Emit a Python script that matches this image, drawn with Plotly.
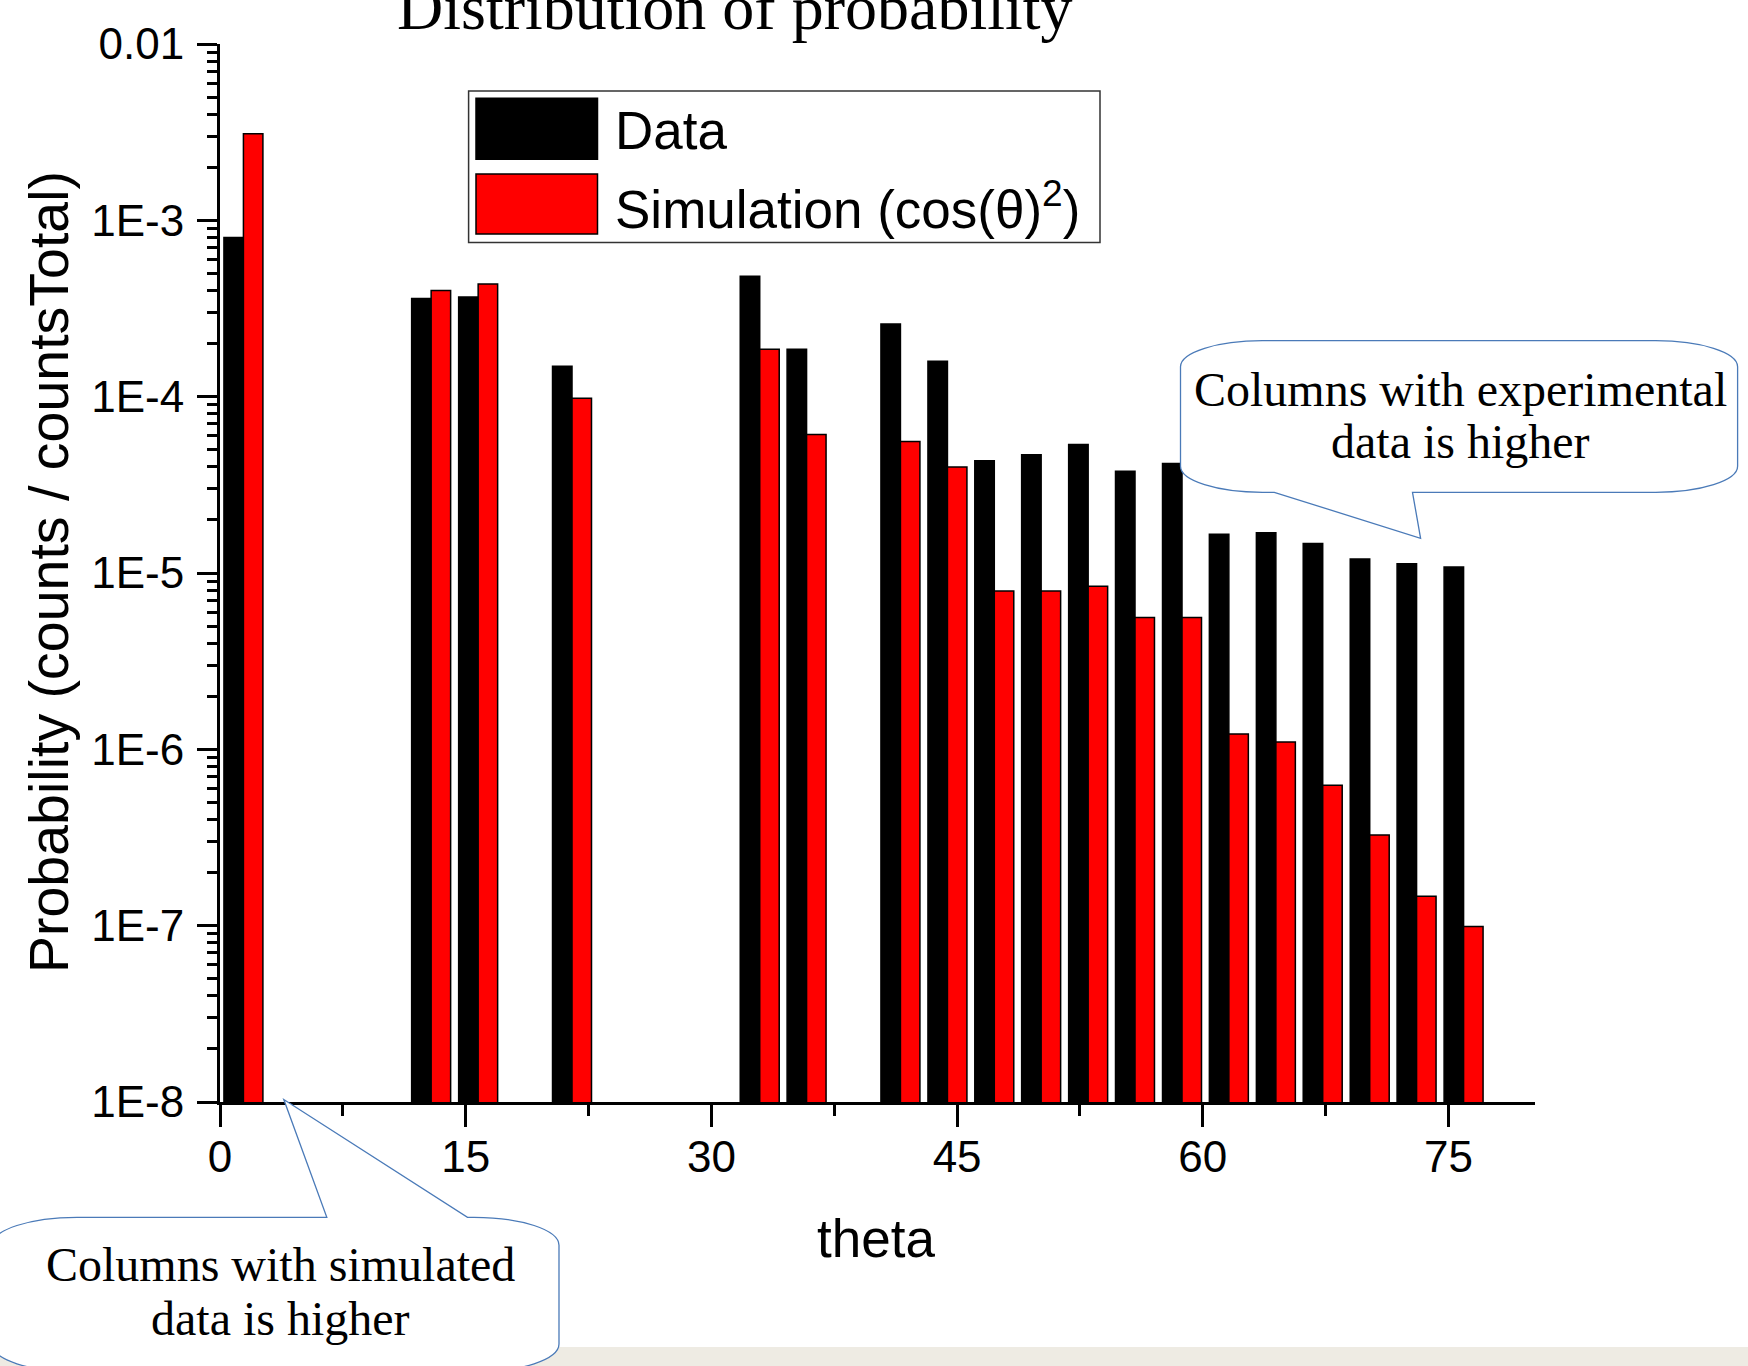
import plotly.graph_objects as go

# ---- data -------------------------------------------------------------
# bin centres (degrees)
theta = [1.43, 12.89, 15.76, 21.49, 32.95, 35.81, 41.54, 44.41, 47.27, 50.13,
         53.00, 55.86, 58.73, 61.59, 64.46, 67.32, 70.19, 73.05, 75.92]

# measured probability per bin
data_prob = [8.0e-4, 3.6e-4, 3.67e-4, 1.49e-4, 4.82e-4, 1.86e-4, 2.58e-4, 1.59e-4,
             4.33e-5, 4.68e-5, 5.36e-5, 3.78e-5, 4.18e-5, 1.66e-5, 1.69e-5,
             1.47e-5, 1.20e-5, 1.13e-5, 1.08e-5]

# simulated probability per bin, cos(theta)^2
sim_prob = [3.1e-3, 4.0e-4, 4.36e-4, 9.8e-5, 1.86e-4, 6.1e-5, 5.57e-5, 3.99e-5,
            7.9e-6, 7.9e-6, 8.4e-6, 5.6e-6, 5.6e-6, 1.22e-6, 1.1e-6,
            6.25e-7, 3.27e-7, 1.47e-7, 9.9e-8]

x_ticks = [0, 15, 30, 45, 60, 75]
x_minor_ticks = [7.5, 22.5, 37.5, 52.5, 67.5]
y_ticks = [1e-8, 1e-7, 1e-6, 1e-5, 1e-4, 1e-3, 1e-2]
y_tick_text = ["1E-8", "1E-7", "1E-6", "1E-5", "1E-4", "1E-3", "0.01"]
y_minor_ticks = [m * 10.0 ** e for e in range(-8, -2) for m in range(2, 10)]

# ---- page geometry ----------------------------------------------------
W, H = 1748, 1366
L, R, T, B = 220, 213, 44, 264
PW = W - L - R
PH = H - T - B

SANS = "Liberation Sans, Arial, sans-serif"
SERIF = "Liberation Serif, Times New Roman, serif"
CALLOUT_LINE = "#4A7AB8"


def xp(px):
    """page pixel x -> paper fraction"""
    return (px - L) / PW


def yp(py):
    """page pixel y (from top) -> paper fraction"""
    return (H - B - py) / PH


def callout_path(l, t, r, b, rx, ry, tail_edge, base1, tip, base2):
    """rounded-rectangle speech bubble with a wedge tail, in paper units"""
    k = 0.5523

    def P(x, y):
        return f"{xp(x):.5f},{yp(y):.5f}"

    s = f"M{P(l + rx, t)} "
    if tail_edge == "top":
        s += f"L{P(base1, t)} L{P(*tip)} L{P(base2, t)} "
    s += f"L{P(r - rx, t)} "
    s += f"C{P(r - rx + k * rx, t)} {P(r, t + ry - k * ry)} {P(r, t + ry)} "
    s += f"L{P(r, b - ry)} "
    s += f"C{P(r, b - ry + k * ry)} {P(r - rx + k * rx, b)} {P(r - rx, b)} "
    if tail_edge == "bottom":
        s += f"L{P(base2, b)} L{P(*tip)} L{P(base1, b)} "
    s += f"L{P(l + rx, b)} "
    s += f"C{P(l + rx - k * rx, b)} {P(l, b - ry + k * ry)} {P(l, b - ry)} "
    s += f"L{P(l, t + ry)} "
    s += f"C{P(l, t + ry - k * ry)} {P(l + rx - k * rx, t)} {P(l + rx, t)} Z"
    return s


# ---- figure -----------------------------------------------------------
fig = go.Figure()
fig.add_trace(go.Bar(
    x=theta, y=data_prob, name="Data",
    marker=dict(color="#000000", line=dict(color="#000000", width=1.5)),
))
fig.add_trace(go.Bar(
    x=theta, y=sim_prob, name="Simulation (cos(θ)²)",
    marker=dict(color="#FF0000", line=dict(color="#000000", width=1.5)),
))

fig.update_layout(
    width=W, height=H,
    margin=dict(l=L, r=R, t=T, b=B, pad=0),
    paper_bgcolor="white", plot_bgcolor="white",
    barmode="group", bargap=0.168, bargroupgap=0,
    showlegend=False,
)

fig.update_xaxes(
    range=[0, 80.28], tickvals=x_ticks,
    ticks="outside", ticklen=22, tickwidth=3, tickcolor="black",
    showline=True, linewidth=3, linecolor="black",
    showgrid=False, zeroline=False,
    tickfont=dict(family=SANS, size=44, color="black"),
    ticklabelstandoff=-8,
    minor=dict(tickvals=x_minor_ticks, ticks="outside", ticklen=11,
               tickwidth=3, tickcolor="black", showgrid=False),
)
fig.update_yaxes(
    type="log", range=[-8, -2], tickvals=y_ticks, ticktext=y_tick_text,
    ticks="outside", ticklen=20, tickwidth=3, tickcolor="black",
    showline=True, linewidth=3, linecolor="black",
    showgrid=False, zeroline=False,
    tickfont=dict(family=SANS, size=44, color="black"),
    ticklabelstandoff=4,
    minor=dict(tickvals=y_minor_ticks, ticks="outside", ticklen=10,
               tickwidth=2.5, tickcolor="black", showgrid=False),
)

shapes = []
# grey strip along the bottom of the page
shapes.append(dict(type="rect", xref="paper", yref="paper",
                   x0=xp(0), x1=xp(W), y0=yp(H), y1=yp(1347),
                   fillcolor="#EEEBE3", line=dict(width=0), layer="above"))
# legend box and swatches
shapes.append(dict(type="rect", xref="paper", yref="paper",
                   x0=xp(468.6), x1=xp(1100), y0=yp(242.5), y1=yp(91),
                   fillcolor="white", line=dict(color="#333333", width=1.5)))
shapes.append(dict(type="rect", xref="paper", yref="paper",
                   x0=xp(476), x1=xp(597.5), y0=yp(159.3), y1=yp(98.3),
                   fillcolor="#000000", line=dict(color="#000000", width=1.5)))
shapes.append(dict(type="rect", xref="paper", yref="paper",
                   x0=xp(476), x1=xp(597.5), y0=yp(234), y1=yp(174),
                   fillcolor="#FF0000", line=dict(color="#000000", width=1.5)))
# speech bubbles
shapes.append(dict(type="path", xref="paper", yref="paper",
                   path=callout_path(1180.5, 340.7, 1737.6, 492.3, 82, 26, "bottom",
                                     1274.3, (1420.6, 538.3), 1412.5),
                   fillcolor="white", line=dict(color=CALLOUT_LINE, width=1.3)))
shapes.append(dict(type="path", xref="paper", yref="paper",
                   path=callout_path(-8, 1217.3, 559, 1372, 85, 28, "top",
                                     326.8, (283.8, 1099.5), 467.5),
                   fillcolor="white", line=dict(color=CALLOUT_LINE, width=1.3)))
fig.update_layout(shapes=shapes)


def note(text, x, y, size, family, **kw):
    fig.add_annotation(text=text, xref="paper", yref="paper",
                       x=xp(x), y=yp(y), showarrow=False,
                       font=dict(family=family, size=size, color="black"),
                       xanchor=kw.pop("xanchor", "center"),
                       yanchor=kw.pop("yanchor", "middle"), **kw)


# chart title (runs off the top edge)
note("Distribution of probability", 735, 7.6, 64, SERIF)
# axis titles
note("theta", 876, 1238.5, 53, SANS)
note("Probability (counts / countsTotal)", 49, 572, 55.5, SANS, textangle=-90)
# legend entries
note("Data", 613, 130, 53, SANS, xanchor="left")
note("Simulation (cos(θ)<sup>2</sup>)", 613, 205, 53, SANS, xanchor="left")
# bubble texts
note("Columns with experimental", 1460, 389.5, 48, SERIF)
note("data is higher", 1460, 441, 48, SERIF)
note("Columns with simulated", 280, 1264.5, 48, SERIF)
note("data is higher", 280, 1318, 48, SERIF)

fig.write_html("out.html")
